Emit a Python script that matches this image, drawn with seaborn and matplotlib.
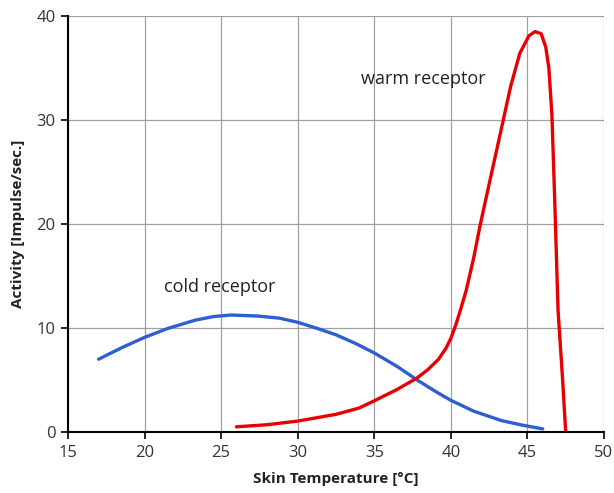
import matplotlib
matplotlib.use("Agg")
import matplotlib.pyplot as plt
import seaborn as sns
import pandas as pd

cold_x = [17.0, 18.5, 20.0, 21.5, 23.3, 24.5, 25.65, 27.4, 28.8, 30.0, 31.3, 32.5, 33.8, 35.0, 36.5, 37.8, 39.0, 40.0, 41.5, 43.3, 44.7, 46.0]
cold_y = [7.0, 8.1, 9.1, 9.95, 10.75, 11.1, 11.25, 11.15, 10.95, 10.55, 9.95, 9.35, 8.5, 7.6, 6.3, 5.0, 3.9, 3.05, 2.0, 1.1, 0.65, 0.3]

warm_x = [26.0, 28.0, 30.0, 32.5, 34.0, 35.0, 36.5, 37.8, 38.5, 39.2, 39.7, 40.0, 40.3, 40.6, 41.0, 41.5, 41.9, 42.6, 43.2, 43.9, 44.5, 45.1, 45.5, 45.9, 46.2, 46.4, 46.6, 46.8, 47.0, 47.3, 47.5]
warm_y = [0.5, 0.7, 1.05, 1.7, 2.3, 3.0, 4.1, 5.2, 6.0, 7.0, 8.1, 9.0, 10.2, 11.6, 13.6, 16.8, 19.8, 24.5, 28.5, 33.2, 36.4, 38.1, 38.5, 38.3, 37.0, 35.0, 30.5, 21.5, 11.7, 5.0, 0.0]

xticks = [15, 20, 25, 30, 35, 40, 45, 50]
yticks = [0, 10, 20, 30, 40]

sns.set_theme(style="white")
plt.rcParams['font.family'] = ['Open Sans', 'DejaVu Sans']

fig = plt.figure(figsize=(6.14, 4.93), dpi=100)
ax = fig.add_axes([0.1107, 0.1237, 0.873, 0.8438])

cold = pd.DataFrame({"x": cold_x, "y": cold_y})
warm = pd.DataFrame({"x": warm_x, "y": warm_y})
sns.lineplot(data=cold, x="x", y="y", ax=ax, color="#2E5FD2", lw=2.4, sort=False)
sns.lineplot(data=warm, x="x", y="y", ax=ax, color="#E80000", lw=2.4, sort=False)

ax.set_xlim(15, 50)
ax.set_ylim(0, 40)
ax.set_xticks(xticks)
ax.set_yticks(yticks)
ax.grid(True, color="#A0A0A0", lw=0.9)
ax.set_axisbelow(True)
for s in ["top", "right"]:
    ax.spines[s].set_visible(False)
for s in ["left", "bottom"]:
    ax.spines[s].set_color("black")
    ax.spines[s].set_linewidth(1.5)
ax.tick_params(axis="both", direction="out", length=5, width=1.2, color="black",
               labelsize=12, labelcolor="#333333", bottom=True, left=True, pad=4)

ax.set_xlabel("Skin Temperature [°C]", fontsize=11, fontweight="bold", color="#222222", labelpad=8)
ax.set_ylabel("Activity [Impulse/sec.]", fontsize=11, fontweight="bold", color="#222222", labelpad=8)

ax.text(24.9, 13.9, "cold receptor", fontsize=13, ha="center", va="center", color="#222222")
ax.text(38.2, 33.9, "warm receptor", fontsize=13, ha="center", va="center", color="#222222")

fig.savefig("out.png", dpi=100)
